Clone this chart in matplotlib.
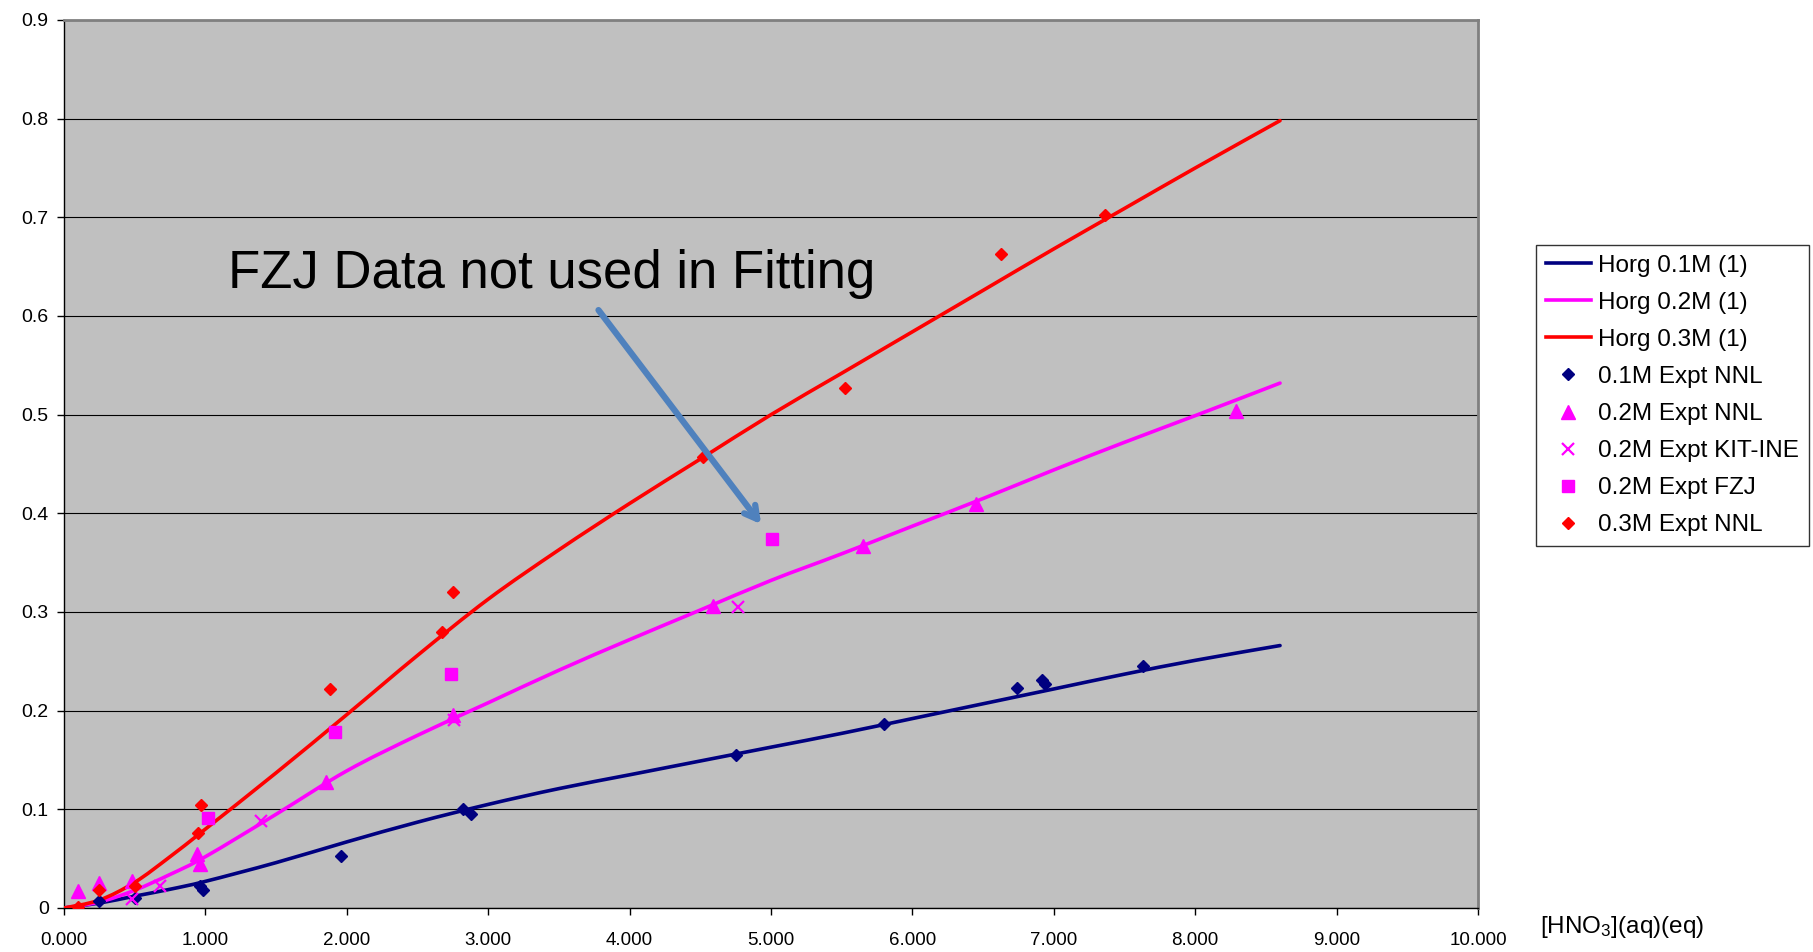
import numpy as np
import matplotlib

matplotlib.use("Agg")
import matplotlib.pyplot as plt
from matplotlib.path import Path
from matplotlib.patches import PathPatch
from matplotlib.ticker import FixedLocator, FuncFormatter

plt.rcParams["font.family"] = ["Liberation Sans", "DejaVu Sans"]
plt.rcParams["mathtext.fontset"] = "custom"
plt.rcParams["mathtext.rm"] = "Liberation Sans"
plt.rcParams["mathtext.default"] = "regular"

# model curves, Horg vs [HNO3]
curve_x = [0.0, 0.25, 0.5, 0.75, 1.0, 1.5, 2.0, 2.5, 3.0, 3.5, 4.0, 4.5,
           5.0, 5.5, 6.0, 6.5, 7.0, 7.5, 8.0, 8.6]
horg_01 = [0.0, 0.005, 0.012, 0.019, 0.027, 0.046, 0.067, 0.087, 0.105, 0.121,
           0.135, 0.149, 0.163, 0.177, 0.192, 0.207, 0.222, 0.237, 0.251, 0.266]
horg_02 = [0.0, 0.006, 0.018, 0.034, 0.052, 0.095, 0.139, 0.175, 0.208, 0.241,
           0.272, 0.302, 0.332, 0.359, 0.387, 0.415, 0.444, 0.472, 0.499, 0.532]
horg_03 = [0.0, 0.008, 0.026, 0.052, 0.080, 0.137, 0.196, 0.256, 0.313, 0.363,
           0.41, 0.455, 0.50, 0.542, 0.584, 0.626, 0.668, 0.709, 0.75, 0.798]

# experimental points
nnl_01_x = [0.25, 0.50, 0.96, 0.98, 1.96, 2.82, 2.88, 4.75, 5.80, 6.74, 6.92, 6.94, 7.63]
nnl_01_y = [0.007, 0.010, 0.022, 0.018, 0.053, 0.100, 0.095, 0.155, 0.186, 0.223, 0.231, 0.227, 0.245]

nnl_02_x = [0.10, 0.25, 0.48, 0.94, 0.96, 1.85, 2.75, 4.59, 5.65, 6.45, 8.29]
nnl_02_y = [0.017, 0.025, 0.027, 0.055, 0.045, 0.128, 0.196, 0.306, 0.367, 0.409, 0.504]

kit_02_x = [0.48, 0.68, 1.39, 2.76, 4.77]
kit_02_y = [0.009, 0.022, 0.088, 0.191, 0.305]

fzj_02_x = [1.02, 1.92, 2.74, 5.01]
fzj_02_y = [0.091, 0.178, 0.237, 0.374]

nnl_03_x = [0.10, 0.25, 0.50, 0.95, 0.97, 1.88, 2.67, 2.75, 4.52, 5.52, 6.63, 7.36]
nnl_03_y = [0.001, 0.018, 0.022, 0.076, 0.104, 0.222, 0.280, 0.320, 0.457, 0.527, 0.663, 0.702]

x_ticks = np.arange(0, 11, 1)
y_ticks = np.arange(0, 1.0, 0.1)

navy = "#000080"
pink = "#FF00FF"
red = "#FF0000"


def smooth_path(xs, ys):
    # Catmull-Rom style bezier through every point (spreadsheet "smoothed line")
    p = np.column_stack([xs, ys]).astype(float)
    n = len(p)
    verts = [p[0]]
    codes = [Path.MOVETO]
    for i in range(n - 1):
        p0 = p[i - 1] if i > 0 else p[i]
        p3 = p[i + 2] if i + 2 < n else p[i + 1]
        c1 = p[i] + (p[i + 1] - p0) / 6.0
        c2 = p[i + 1] - (p3 - p[i]) / 6.0
        verts += [c1, c2, p[i + 1]]
        codes += [Path.CURVE4] * 3
    return Path(verts, codes)


fig = plt.figure(figsize=(18.13, 9.52), dpi=100)
ax = fig.add_axes([64 / 1813, 44 / 952, 1414 / 1813, 888 / 952])
ax.set_facecolor("#C0C0C0")

for ys, col, lab in [(horg_01, navy, "Horg 0.1M (1)"),
                     (horg_02, pink, "Horg 0.2M (1)"),
                     (horg_03, red, "Horg 0.3M (1)")]:
    ax.add_patch(PathPatch(smooth_path(curve_x, ys), fill=False, edgecolor=col,
                           lw=2.6, capstyle="round", joinstyle="round", zorder=3))
    ax.plot([], [], color=col, lw=2.6, label=lab)

ax.plot(nnl_01_x, nnl_01_y, "D", color=navy, ms=6.3, ls="none",
        label="0.1M Expt NNL", zorder=4)
ax.plot(nnl_02_x, nnl_02_y, "^", color=pink, ms=9.5, ls="none",
        label="0.2M Expt NNL", zorder=4)
ax.plot(kit_02_x, kit_02_y, "x", color=pink, ms=8.6, mew=1.6, ls="none",
        label="0.2M Expt KIT-INE", zorder=4)
ax.plot(fzj_02_x, fzj_02_y, "s", color=pink, ms=8.6, ls="none",
        label="0.2M Expt FZJ", zorder=4)
ax.plot(nnl_03_x, nnl_03_y, "D", color=red, ms=6.3, ls="none",
        label="0.3M Expt NNL", zorder=4)

ax.set_xlim(0, 10)
ax.set_ylim(0, 0.9)
ax.xaxis.set_major_locator(FixedLocator(x_ticks))
ax.yaxis.set_major_locator(FixedLocator(y_ticks))
ax.xaxis.set_major_formatter(FuncFormatter(lambda v, p: f"{v:.3f}"))
ax.yaxis.set_major_formatter(FuncFormatter(lambda v, p: "0" if abs(v) < 1e-9 else f"{v:.1f}"))
ax.tick_params(axis="both", direction="out", length=5, width=1, labelsize=13.5)
ax.tick_params(axis="x", pad=12)
ax.tick_params(axis="y", pad=6, labelsize=14)
ax.grid(True, axis="y", color="black", lw=0.8)
ax.set_axisbelow(True)

for side in ["left", "bottom"]:
    ax.spines[side].set_color("black")
    ax.spines[side].set_linewidth(1)
for side in ["right", "top"]:
    ax.spines[side].set_color("#808080")
    ax.spines[side].set_linewidth(2)

ax.text(1.16, 0.643, "FZJ Data not used in Fitting", fontsize=38,
        va="center", ha="left", zorder=5)
ax.annotate("", xy=(4.93, 0.389), xytext=(3.78, 0.606),
            arrowprops=dict(arrowstyle="->,head_length=0.9,head_width=0.5",
                            color="#4F81BD", lw=4.5, shrinkA=0, shrinkB=0),
            zorder=5)

fig.text(1540 / 1813, 0.026, "[HNO$_3$](aq)(eq)", fontsize=17.5, va="center", ha="left")

leg = fig.legend(loc="upper left", bbox_to_anchor=(1536 / 1813, 1 - 245 / 952),
                 fontsize=17.5, frameon=True, fancybox=False, edgecolor="black",
                 handlelength=1.85, handletextpad=0.3, labelspacing=0.62,
                 borderpad=0.4, borderaxespad=0)
leg.get_frame().set_linewidth(1)

plt.savefig("out.png", dpi=100)
plt.close()
